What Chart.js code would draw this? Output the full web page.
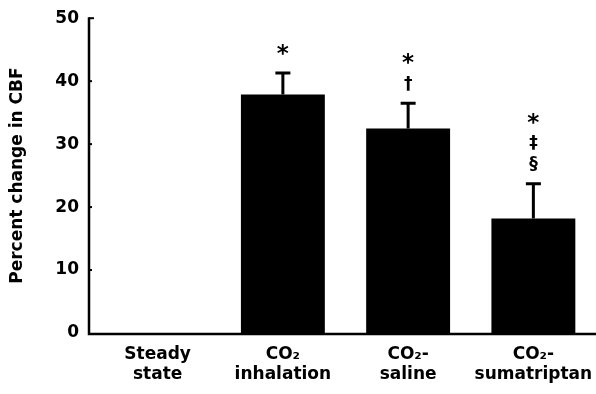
<!DOCTYPE html>
<html>
<head>
<meta charset="utf-8">
<script src="https://cdn.jsdelivr.net/npm/chart.js@4"></script>
<style>
  html, body { margin: 0; padding: 0; background: #fff; }
</style>
</head>
<body>
<canvas id="cbf" width="596" height="394"></canvas>
<script>
// values
const categories = [['Steady', 'state'], ['CO\u2082', 'inhalation'], ['CO\u2082-', 'saline'], ['CO\u2082-', 'sumatriptan']];
const pctChange = [0, 37.9, 32.5, 18.2];
const sem = [0, 3.4, 4.0, 5.5];
const marks = [[], ['*'], ['*', '\u2020'], ['*', '\u2021', '\u00a7']];
const yTicks = [0, 10, 20, 30, 40, 50];

const FONT = 'DejaVu Sans';

// axis lines, inward ticks, error bars and significance symbols
const extras = {
    id: 'extras',
    afterDatasetsDraw(chart) {
        const ctx = chart.ctx;
        const y = chart.scales.y;
        const meta = chart.getDatasetMeta(0);
        const axisX = chart.chartArea.left - 6;
        ctx.save();
        ctx.strokeStyle = '#000';
        ctx.fillStyle = '#000';

        // axes
        ctx.lineWidth = 2.5;
        ctx.beginPath();
        ctx.moveTo(axisX, y.getPixelForValue(50) - 1);
        ctx.lineTo(axisX, y.getPixelForValue(0) + 1);
        ctx.lineTo(chart.chartArea.right, y.getPixelForValue(0) + 1);
        ctx.stroke();
        ctx.lineWidth = 2;
        yTicks.forEach(v => {
            if (v === 0) return;
            const py = y.getPixelForValue(v);
            ctx.beginPath();
            ctx.moveTo(axisX, py);
            ctx.lineTo(axisX + (v === 50 ? 5 : 3), py);
            ctx.stroke();
        });

        // error bars
        ctx.lineWidth = 3;
        meta.data.forEach((bar, i) => {
            if (!sem[i]) return;
            const top = y.getPixelForValue(pctChange[i] + sem[i]);
            ctx.beginPath();
            ctx.moveTo(bar.x, bar.y);
            ctx.lineTo(bar.x, top);
            ctx.moveTo(bar.x - 7.5, top);
            ctx.lineTo(bar.x + 7.5, top);
            ctx.stroke();

            // symbols stacked above the cap
            ctx.textAlign = 'center';
            ctx.textBaseline = 'middle';
            const list = marks[i].slice().reverse();
            list.forEach((m, k) => {
                const cy = top - 19 - k * 21;
                if (m === '*') {
                    ctx.font = 'bold 23px ' + FONT;
                    ctx.fillText(m, bar.x, cy + 1);
                } else {
                    ctx.font = 'bold 17px ' + FONT;
                    ctx.fillText(m, bar.x, cy);
                }
            });
        });
        ctx.restore();
    }
};

new Chart(document.getElementById('cbf'), {
    type: 'bar',
    data: {
        labels: categories,
        datasets: [{
            data: pctChange,
            backgroundColor: '#000',
            borderWidth: 0,
            barPercentage: 0.67,
            categoryPercentage: 1
        }]
    },
    options: {
        responsive: false,
        animation: false,
        devicePixelRatio: 1,
        layout: { padding: { top: 8, right: 0, left: 0, bottom: 0 } },
        plugins: { legend: { display: false }, tooltip: { enabled: false } },
        scales: {
            x: {
                grid: { display: false },
                border: { display: false },
                ticks: {
                    color: '#000',
                    padding: 3,
                    maxRotation: 0,
                    font: { family: FONT, size: 17, weight: 'bold', lineHeight: 1.2 }
                },
                afterFit(scale) { scale.height = 394 - 333; }
            },
            y: {
                min: 0,
                max: 50,
                grid: { display: false },
                border: { display: false },
                afterBuildTicks(scale) { scale.ticks = yTicks.map(v => ({ value: v })); },
                ticks: {
                    color: '#000',
                    padding: 8,
                    font: { family: FONT, size: 17, weight: 'bold' }
                },
                title: {
                    display: true,
                    text: 'Percent change in CBF',
                    color: '#000',
                    padding: { top: 7, bottom: 0 },
                    font: { family: FONT, size: 17, weight: 'bold' }
                },
                afterFit(scale) { scale.width = 95; }
            }
        }
    },
    plugins: [extras]
});
</script>
</body>
</html>
